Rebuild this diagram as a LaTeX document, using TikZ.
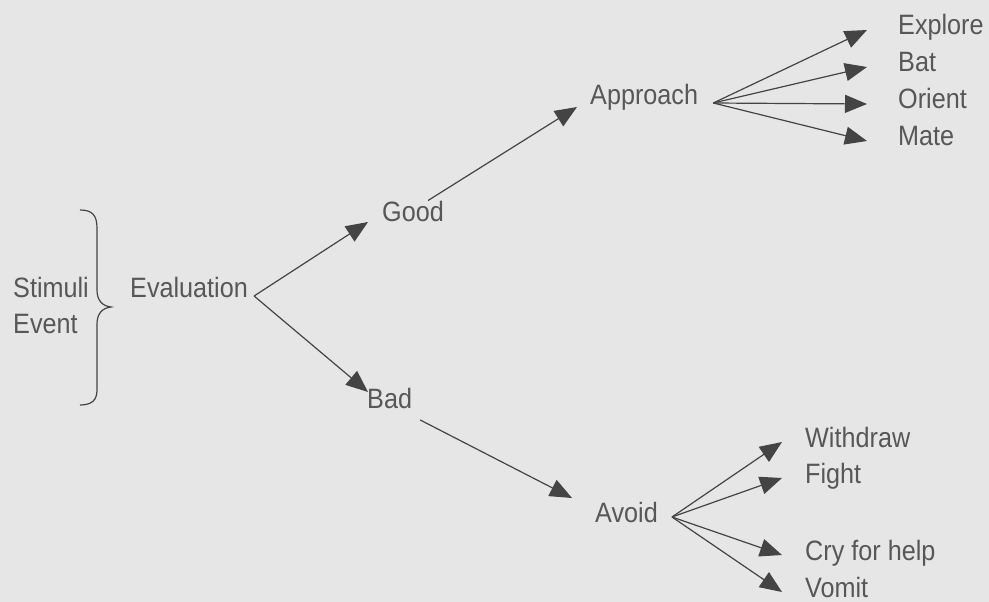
\documentclass[tikz,border=0pt]{standalone}
\usepackage{fontspec}
\setmainfont{Liberation Sans}[FakeStretch=0.9]
\usetikzlibrary{arrows.meta, positioning, calc}
\definecolor{paper}{HTML}{E6E6E6}
\definecolor{ink}{HTML}{575757}
\definecolor{wire}{HTML}{444444}

\begin{document}
\begin{tikzpicture}[
		x=1pt, y=-1pt,
		>={Triangle[length=22pt,width=18pt]},
		every node/.style={font=\fontsize{28}{30}\selectfont, text=ink, inner sep=0pt, anchor=base west},
		arr/.style={->, wire, line width=1.2pt},
		brace/.style={wire, line width=1.2pt}
		]
		\useasboundingbox[fill=paper] (0,0) rectangle (989,602);
		
		% --- Left: stimulus, brace, evaluation ---
		\node (stim) at (13,297) {Stimuli};
		\node[below=36pt of stim.base west, anchor=base west] (event) {Event};
		\node (eval) at (130,297) {Evaluation};
		\draw[brace] (80,210) .. controls (92,210) and (97,215) .. (97,228) -- (97,290)
			.. controls (97,300) and (102,306) .. (111,307)
			.. controls (102,308) and (97,314) .. (97,324) -- (97,390)
			.. controls (97,400) and (92,405) .. (80,405);
		
		% --- Middle: good / bad ---
		\node (good) at (382,221) {Good};
		\node (bad) at (367,408) {Bad};
		\node (approach) at (590,105) {Approach};
		\node (avoid) at (595,522) {Avoid};
		
		% --- Right: responses ---
		\node (explore) at (898,35) {Explore};
		\node[below=37pt of explore.base west, anchor=base west] (bat) {Bat};
		\node[below=37pt of bat.base west, anchor=base west] (orient) {Orient};
		\node[below=37pt of orient.base west, anchor=base west] (mate) {Mate};
		\node (withdraw) at (805,447) {Withdraw};
		\node[below=36pt of withdraw.base west, anchor=base west] (fight) {Fight};
		\node[below=77pt of fight.base west, anchor=base west] (cry) {Cry for help};
		\node[below=37pt of cry.base west, anchor=base west] (vomit) {Vomit};
		
		% --- Forks ---
		\coordinate (evalfork) at ($(eval.base east)+(6,-1)$);
		\coordinate (apfork) at ($(approach.base east)+(15,-2)$);
		\coordinate (avfork) at ($(avoid.base east)+(14,-5)$);
		
		% --- Edges ---
		\draw[arr] (evalfork) -- ($(good.base west)+(-14,1)$);
		\draw[arr] (evalfork) -- ($(bad.base west)+(1,-16)$);
		\draw[arr] ($(good.north)+(15,0)$) -- ($(approach.base west)+(-13,2)$);
		\draw[arr] ($(bad.base east)+(8,12)$) -- ($(avoid.base west)+(-23,-24)$);
		\foreach \r in {explore, bat, orient, mate}
			\draw[arr] (apfork) -- ($(\r.base west)+(-31,-5)$);
		\foreach \r in {withdraw, fight, cry, vomit}
			\draw[arr] (avfork) -- ($(\r.base west)+(-23,-5)$);
	\end{tikzpicture}
\end{document}
